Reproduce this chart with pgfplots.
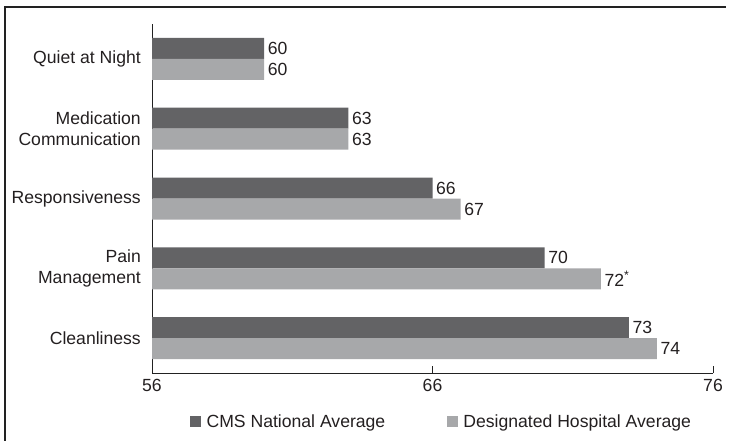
\documentclass[border=0pt]{standalone}
\usepackage{fontspec}
\setmainfont{Liberation Sans}
\usepackage{pgfplots}
\pgfplotsset{compat=1.18}
\definecolor{cmsdark}{HTML}{636365}
\definecolor{hosplight}{HTML}{A7A8AA}
\definecolor{linegray}{HTML}{222222}
\definecolor{textgray}{HTML}{231F20}
\begin{document}
\begin{tikzpicture}[x=1pt,y=1pt]
\useasboundingbox (0,0) rectangle (735,440);
% frame lines along the top and left edge
\draw[line width=1.4pt, linegray] (5,-2) -- (5,433) -- (726,433);
\begin{axis}[
  at={(152pt,67pt)}, anchor=south west,
  scale only axis, width=561pt, height=349pt,
  xmin=56, xmax=76, ymin=-0.5, ymax=4.5,
  axis x line*=bottom, axis y line*=left,
  axis line style={linegray, line width=0.9pt, -},
  font=\fontsize{17.6}{21}\selectfont,
  /pgf/number format/assume math mode=true,
  ticklabel style={text=textgray},
  xbar, bar width=21pt,
  tick align=inside, major tick length=7pt,
  xtick={56,66,76},
  xtick style={linegray, line width=0.9pt},
  xticklabel style={yshift=-3pt},
  ytick={0,1,2,3,4},
  yticklabels={Cleanliness, {Pain\\Management}, Responsiveness, {Medication\\Communication}, Quiet at Night},
  ytick style={draw=none},
  yticklabel style={align=right, inner sep=0pt, xshift=-11pt},
  extra y ticks={-0.5,0.5,1.5,2.5,3.5,4.5},
  extra y tick labels={},
  extra y tick style={tick align=outside, major tick length=6pt, tick style={draw=linegray, line width=0.9pt}},
  nodes near coords style={font=\fontsize{17.6}{21}\selectfont, anchor=west, inner sep=3.5pt, text=textgray},
  legend columns=2,
  legend style={draw=none, fill=none, text=textgray, at={(axis description cs:0.5165,0)}, anchor=center, yshift=-48.5pt,
    /tikz/every odd column/.append style={column sep=3.5pt},
    /tikz/every even column/.append style={column sep=60pt}},
  legend image code/.code={\fill[#1] (0pt,-5.3pt) rectangle (10.6pt,5.3pt);},
]
\addplot[fill=cmsdark, draw=none, bar shift=10.5pt, point meta=explicit symbolic, nodes near coords]
  coordinates {(73,0)[73] (70,1)[70] (66,2)[66] (63,3)[63] (60,4)[60]};
\addplot[fill=hosplight, draw=none, bar shift=-10.5pt, point meta=explicit symbolic, nodes near coords]
  coordinates {(74,0)[74] (72,1)[72\textsuperscript{*}] (67,2)[67] (63,3)[63] (60,4)[60]};
\legend{CMS National Average, Designated Hospital Average}
\end{axis}
\end{tikzpicture}
\end{document}
